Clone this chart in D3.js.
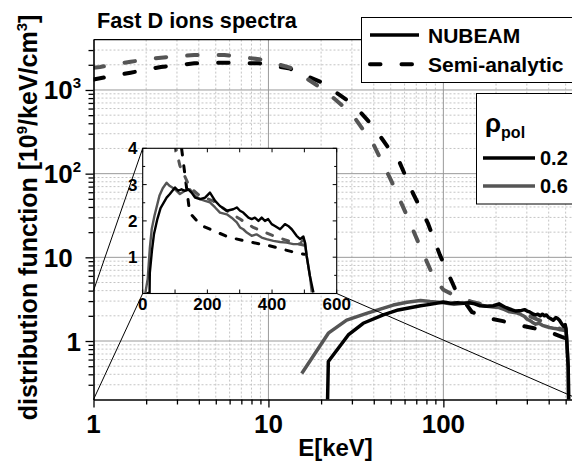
<!DOCTYPE html>
<html>
<head>
<meta charset="utf-8">
<script src="https://cdn.jsdelivr.net/npm/d3@7"></script>
<style>
  html, body { margin: 0; padding: 0; background: #fff; }
  svg { display: block; font-family: "Liberation Sans", Arial, Helvetica, sans-serif; font-weight: bold; }
</style>
</head>
<body>
<svg id="chart" width="572" height="462"></svg>
<script>
// ---- data: energy E [keV] and distribution function [10^9/keV/cm^3] ----
// NUBEAM, rho_pol = 0.2
const nubeam02E = [12, 21.3, 22, 28.6, 34.8, 45.3, 55.2, 74, 84, 100, 110, 120, 131, 141, 151, 162, 177,
  193, 208, 224, 239, 260, 280, 291, 301, 311, 327, 337, 347, 358, 368, 378, 388, 399, 409, 425, 440,
  450, 461, 476, 487, 497, 502, 507, 517, 528];
const nubeam02F = [0, 0.02, 0.57, 1.18, 1.63, 2.05, 2.35, 2.64, 2.74, 2.92, 2.83, 2.87, 2.83, 2.87, 2.78, 2.64, 2.60,
  2.64, 2.78, 2.55, 2.41, 2.28, 2.32, 2.37, 2.28, 2.23, 2.09, 2.05, 2.09, 2.00, 2.09, 2.00, 2.05, 1.91, 1.86, 1.77, 1.91,
  1.86, 1.77, 1.59, 1.50, 1.57, 1.40, 1.04, 0.49, 0.03];
// NUBEAM, rho_pol = 0.6
const nubeam06E = [8, 15.5, 22, 28, 36.4, 51.7, 62, 74, 84, 100, 115, 131, 146, 162, 177, 193, 208, 224, 239, 260,
  275, 291, 301, 311, 322, 337, 352, 368, 383, 404, 425, 445, 466, 486, 497, 502, 507, 517, 523];
const nubeam06F = [0, 0.41, 1.24, 1.78, 2.14, 2.69, 2.9, 3.05, 2.96, 2.87, 2.74, 2.83, 2.87, 2.69, 2.60, 2.55, 2.51, 2.37, 2.23, 2.18,
  2.09, 1.96, 1.82, 1.77, 1.68, 1.59, 1.63, 1.54, 1.50, 1.45, 1.42, 1.40, 1.36, 1.36, 1.50, 1.40, 1.04, 0.49, 0.03];
// Semi-analytic, rho_pol = 0.2
const semi02E = [1, 1.09, 1.63, 2.43, 3.77, 5.6, 8.87, 13.3, 20.3, 30.8, 40, 48, 56.4, 66.9, 81.5, 95.5, 116,
  145.5, 180, 219, 267, 325, 390, 475, 500];
const semi02F = [1335, 1380, 1610, 1884, 2083, 2118, 2083, 1800, 1222, 662, 360, 210, 134, 58.7, 25.7, 10.7, 4.3,
  2.22, 1.88, 1.73, 1.55, 1.43, 1.32, 1.12, 1.08];
// Semi-analytic, rho_pol = 0.6
const semi06E = [1, 1.09, 1.63, 2.43, 3.77, 5.6, 8.87, 13.3, 20.8, 30, 40, 50, 61.5, 72.6, 88.7, 100, 115,
  146, 177, 218, 260, 301, 342, 404, 466, 500];
const semi06F = [1840, 1884, 2178, 2433, 2619, 2619, 2328, 1850, 1000, 520, 220, 85, 32.5, 14.4, 5.58, 4.1, 3.52,
  2.92, 2.69, 2.55, 2.28, 2.05, 1.82, 1.59, 1.40, 1.33];

// ---- axes ----
const xDomain = [1, 600];
const yDomain = [0.2, 4000];
const xMajorTicks = [1, 10, 100];
const xTickLabels = ["1", "10", "100"];
const xMinorTicks = [2, 3, 4, 5, 6, 7, 8, 9, 20, 30, 40, 50, 60, 70, 80, 90, 200, 300, 400, 500];
const yMajorTicks = [1, 10, 100, 1000];
const yTickMantissa = ["1", "10", "10", "10"];
const yTickExponent = ["", "\u2007", "2", "3"];
const yMinorTicks = [0.3, 0.4, 0.5, 0.6, 0.7, 0.8, 0.9, 2, 3, 4, 5, 6, 7, 8, 9,
  20, 30, 40, 50, 60, 70, 80, 90, 200, 300, 400, 500, 600, 700, 800, 900, 2000, 3000];
// inset (linear axes)
const insetXDomain = [0, 600];
const insetYDomain = [0, 4];
const insetXTicks = [0, 200, 400, 600];
const insetXMinor = [100, 300, 500];
const insetYTicks = [1, 2, 3, 4];
const insetYMinor = [0.5, 1.5, 2.5, 3.5];

const rhoLabels = ["0.2", "0.6"];
const seriesNames = ["NUBEAM", "Semi-analytic"];

const BLACK = "#000", GRAY = "#555";

const series = [
  { E: semi02E, F: semi02F, color: BLACK, dashed: true },
  { E: semi06E, F: semi06F, color: GRAY, dashed: true },
  { E: nubeam06E, F: nubeam06F, color: GRAY, dashed: false },
  { E: nubeam02E, F: nubeam02F, color: BLACK, dashed: false }
].map(s => ({ ...s, pts: s.E.map((e, i) => ({ e, f: s.F[i] })) }));

const svg = d3.select("#chart");
const plot = { left: 93.5, right: 579.5, top: 39.6, bottom: 399.5 };
const x = d3.scaleLog().domain(xDomain).range([plot.left, plot.right]);
const y = d3.scaleLog().domain(yDomain).range([plot.bottom, plot.top]);

const inset = { left: 142.7, right: 336.7, top: 148.3, bottom: 293.5 };
const xi = d3.scaleLinear().domain(insetXDomain).range([inset.left, inset.right]);
const yi = d3.scaleLinear().domain(insetYDomain).range([inset.bottom, inset.top]);

// scale a text's font size so that it spans the given width
function fitWidth(sel, width) {
  const fs = +sel.attr("font-size");
  const w = sel.node().getComputedTextLength();
  if (w > 0) sel.attr("font-size", (fs * width / w).toFixed(2));
}

const defs = svg.append("defs");
defs.append("clipPath").attr("id", "clipMain").append("rect")
  .attr("x", plot.left).attr("y", plot.top)
  .attr("width", plot.right - plot.left).attr("height", plot.bottom - plot.top);
defs.append("clipPath").attr("id", "clipInset").append("rect")
  .attr("x", inset.left).attr("y", inset.top)
  .attr("width", inset.right - inset.left).attr("height", inset.bottom - inset.top);

// ---- grid ----
const grid = svg.append("g");
grid.selectAll(".gxm").data(xMinorTicks).join("line")
  .attr("x1", d => x(d)).attr("x2", d => x(d)).attr("y1", plot.top).attr("y2", plot.bottom)
  .attr("stroke", "#c4c4c4").attr("stroke-width", 1).attr("stroke-dasharray", "2,2");
grid.selectAll(".gym").data(yMinorTicks).join("line")
  .attr("x1", plot.left).attr("x2", plot.right).attr("y1", d => y(d)).attr("y2", d => y(d))
  .attr("stroke", "#c4c4c4").attr("stroke-width", 1).attr("stroke-dasharray", "2,2");
grid.selectAll(".gxM").data(xMajorTicks.slice(1)).join("line")
  .attr("x1", d => x(d)).attr("x2", d => x(d)).attr("y1", plot.top).attr("y2", plot.bottom)
  .attr("stroke", "#9a9a9a").attr("stroke-width", 1);
grid.selectAll(".gyM").data(yMajorTicks).join("line")
  .attr("x1", plot.left).attr("x2", plot.right).attr("y1", d => y(d)).attr("y2", d => y(d))
  .attr("stroke", "#9a9a9a").attr("stroke-width", 1);

// ---- main curves ----
const lineMain = d3.line().defined(d => d.f > 0).x(d => x(d.e)).y(d => y(d.f));
const curves = svg.append("g").attr("clip-path", "url(#clipMain)");
series.forEach(s => {
  curves.append("path").attr("d", lineMain(s.pts))
    .attr("fill", "none").attr("stroke", s.color)
    .attr("stroke-width", s.dashed ? 4 : 3.5)
    .attr("stroke-linecap", s.dashed ? "round" : "butt")
    .attr("stroke-linejoin", "round")
    .attr("stroke-dasharray", s.dashed ? "10.5,21" : null);
});

// ---- zoom guide lines from the inset to the region it magnifies ----
const guides = [
  [xi(0), yi(4), x(1), y(4)],
  [xi(0), yi(0), x(1), y(0.2)],
  [xi(600), yi(0), x(600), y(0.2)]
];
svg.append("g").selectAll("line").data(guides).join("line")
  .attr("x1", d => d[0]).attr("y1", d => d[1]).attr("x2", d => d[2]).attr("y2", d => d[3])
  .attr("stroke", "#000").attr("stroke-width", 1);

// ---- main axes ----
const axX = svg.append("g").attr("transform", `translate(0,${plot.bottom})`);
axX.call(d3.axisBottom(x).tickValues(xMinorTicks).tickSize(5).tickSizeOuter(0).tickFormat(""));
axX.append("g").call(d3.axisBottom(x).tickValues(xMajorTicks).tickSize(8).tickSizeOuter(0).tickFormat(""))
  .select(".domain").remove();
axX.select(".domain").attr("stroke-width", 1.6);
axX.selectAll(".tick line").attr("stroke-width", 1.3);

const axY = svg.append("g").attr("transform", `translate(${plot.left},0)`);
axY.call(d3.axisLeft(y).tickValues(yMinorTicks).tickSize(5).tickSizeOuter(0).tickFormat(""));
axY.append("g").call(d3.axisLeft(y).tickValues(yMajorTicks).tickSize(8).tickSizeOuter(0).tickFormat(""))
  .select(".domain").remove();
axY.select(".domain").attr("stroke-width", 1.6);
axY.selectAll(".tick line").attr("stroke-width", 1.3);

svg.append("line").attr("x1", plot.left).attr("x2", plot.right)
  .attr("y1", plot.top).attr("y2", plot.top).attr("stroke", "#000").attr("stroke-width", 1.2);

// tick labels
svg.append("g").selectAll("text").data(xMajorTicks).join("text")
  .attr("x", d => x(d)).attr("y", 432.5).attr("text-anchor", "middle")
  .attr("font-size", 26).text((d, i) => xTickLabels[i]);

const yl = svg.append("g").selectAll("text").data(yMajorTicks).join("text")
  .attr("x", 81).attr("y", d => y(d) + 9.5).attr("text-anchor", "end").attr("font-size", 26);
yl.append("tspan").text((d, i) => yTickMantissa[i]);
yl.append("tspan").attr("font-size", 15).attr("dy", -11).text((d, i) => yTickExponent[i]);

// axis titles
svg.append("text").attr("x", 335.5).attr("y", 456).attr("text-anchor", "middle")
  .attr("font-size", 24).text("E[keV]");

const ylab = svg.append("text").attr("transform", "translate(36.5,217.5) rotate(-90)")
  .attr("text-anchor", "middle").attr("font-size", 25);
ylab.append("tspan").text("distribution function [10");
ylab.append("tspan").attr("font-size", 15).attr("dy", -10).text("9");
ylab.append("tspan").attr("dy", 10).text("/keV/cm");
ylab.append("tspan").attr("font-size", 15).attr("dy", -10).text("3");
ylab.append("tspan").attr("dy", 10).text("]");

const title = svg.append("text").attr("x", 97).attr("y", 28.3).attr("font-size", 21)
  .text("Fast D ions spectra");
fitWidth(title, 200);

// ---- inset ----
const ins = svg.append("g");
ins.append("rect").attr("x", inset.left).attr("y", inset.top)
  .attr("width", inset.right - inset.left).attr("height", inset.bottom - inset.top)
  .attr("fill", "#fff");
const lineInset = d3.line().x(d => xi(d.e)).y(d => yi(d.f));
const insCurves = ins.append("g").attr("clip-path", "url(#clipInset)");
series.forEach(s => {
  insCurves.append("path").attr("d", lineInset(s.pts))
    .attr("fill", "none").attr("stroke", s.color)
    .attr("stroke-width", s.dashed ? 3 : 2.4)
    .attr("stroke-linecap", s.dashed ? "round" : "butt")
    .attr("stroke-linejoin", "round")
    .attr("stroke-dasharray", s.dashed ? "6,11" : null);
});
// inward ticks on all four sides
const tickIn = (len, vals, orient) => {
  const g = ins.append("g");
  if (orient === "x") {
    g.selectAll(".b").data(vals).join("line")
      .attr("x1", d => xi(d)).attr("x2", d => xi(d)).attr("y1", inset.bottom).attr("y2", inset.bottom - len);
    g.selectAll(".t").data(vals).join("line")
      .attr("x1", d => xi(d)).attr("x2", d => xi(d)).attr("y1", inset.top).attr("y2", inset.top + len);
  } else {
    g.selectAll(".l").data(vals).join("line")
      .attr("x1", inset.left).attr("x2", inset.left + len).attr("y1", d => yi(d)).attr("y2", d => yi(d));
    g.selectAll(".r").data(vals).join("line")
      .attr("x1", inset.right).attr("x2", inset.right - len).attr("y1", d => yi(d)).attr("y2", d => yi(d));
  }
  g.selectAll("line").attr("stroke", "#000").attr("stroke-width", 1);
};
tickIn(4, insetXTicks.concat(insetXMinor), "x");
tickIn(4, insetYTicks, "y");
tickIn(2.5, insetYMinor, "y");
ins.append("rect").attr("x", inset.left).attr("y", inset.top)
  .attr("width", inset.right - inset.left).attr("height", inset.bottom - inset.top)
  .attr("fill", "none").attr("stroke", "#000").attr("stroke-width", 1.1);
ins.append("g").selectAll("text").data(insetXTicks).join("text")
  .attr("x", d => xi(d)).attr("y", 310).attr("text-anchor", "middle").attr("font-size", 17)
  .text(d => d3.format("d")(d));
ins.append("g").selectAll("text").data(insetYTicks).join("text")
  .attr("x", 137.5).attr("y", d => yi(d) + 6).attr("text-anchor", "end").attr("font-size", 17)
  .text(d => d3.format("d")(d));

// ---- legend: model ----
const leg1 = svg.append("g");
leg1.append("rect").attr("x", 361.5).attr("y", 17.5).attr("width", 260).attr("height", 65)
  .attr("fill", "#fff").attr("stroke", "#000").attr("stroke-width", 1);
[false, true].forEach((dashed, i) => {
  const ly = i === 0 ? 35 : 64.3;
  leg1.append("line").attr("x1", 370).attr("x2", 419).attr("y1", ly).attr("y2", ly)
    .attr("stroke", "#000").attr("stroke-width", dashed ? 4 : 3.5)
    .attr("stroke-linecap", dashed ? "round" : "butt")
    .attr("stroke-dasharray", dashed ? "10.5,21" : null);
  leg1.append("text").attr("x", 428).attr("y", ly + 7.5).attr("font-size", 21).text(seriesNames[i]);
});

// ---- legend: radial position ----
const leg2 = svg.append("g");
leg2.append("rect").attr("x", 476.5).attr("y", 93.5).attr("width", 150).attr("height", 110.5)
  .attr("fill", "#fff").attr("stroke", "#000").attr("stroke-width", 1);
const rho = leg2.append("text").attr("x", 485).attr("y", 131.5).attr("font-size", 26);
rho.append("tspan").text("\u03c1");
rho.append("tspan").attr("font-size", 16).attr("dy", 6).text("pol");
[BLACK, GRAY].forEach((c, i) => {
  const ly = 158 + i * 28;
  leg2.append("line").attr("x1", 483).attr("x2", 535).attr("y1", ly).attr("y2", ly)
    .attr("stroke", c).attr("stroke-width", 3.5);
  leg2.append("text").attr("x", 540).attr("y", ly + 7).attr("font-size", 20).text(rhoLabels[i]);
});
</script>
</body>
</html>
